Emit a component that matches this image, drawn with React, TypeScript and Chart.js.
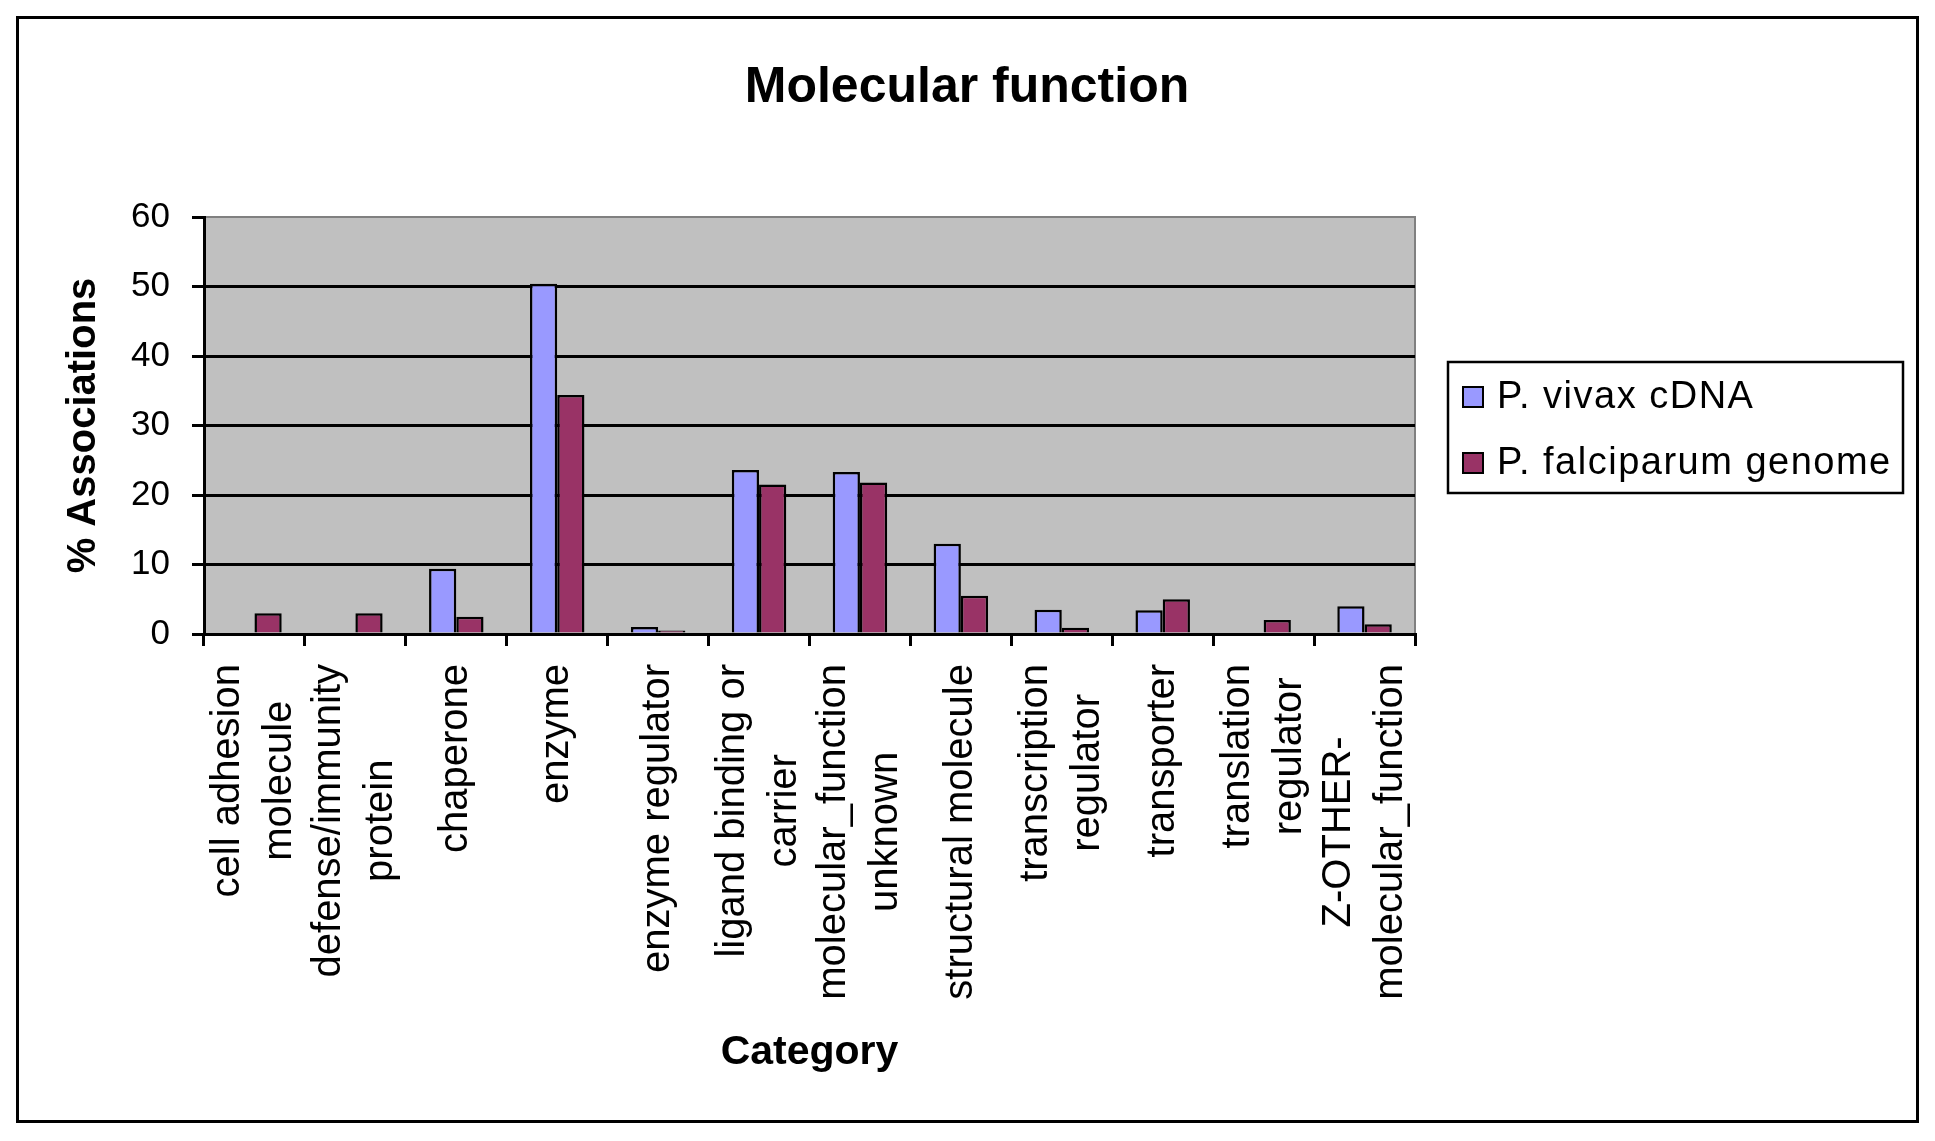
import { useEffect, useRef } from 'react';
import { Chart, registerables } from 'chart.js';

Chart.register(...registerables);

// category names, split into the lines used under the axis
const categoryLines: string[][] = [
  ['cell adhesion', 'molecule'],
  ['defense/immunity', 'protein'],
  ['chaperone'],
  ['enzyme'],
  ['enzyme regulator'],
  ['ligand binding or', 'carrier'],
  ['molecular_function', 'unknown'],
  ['structural molecule'],
  ['transcription', 'regulator'],
  ['transporter'],
  ['translation', 'regulator'],
  ['Z-OTHER-', 'molecular_function'],
];

const vivaxValues = [0, 0, 9.4, 50.4, 1.0, 23.6, 23.3, 13.0, 3.5, 3.4, 0, 4.0];
const falciparumValues = [3.0, 3.0, 2.5, 34.4, 0.5, 21.5, 21.8, 5.5, 0.9, 5.0, 2.0, 1.4];

const yTicks = [0, 10, 20, 30, 40, 50, 60];

const seriesNames = ['P. vivax cDNA', 'P. falciparum genome'];
const seriesColors = ['#9999FF', '#993366'];
const chartTitle = 'Molecular function';

const FONT = '"Liberation Sans", Arial, sans-serif';
const W = 1897;
const H = 1101;

const plotBackground = {
  id: 'plotBackground',
  beforeDraw(chart: Chart) {
    const { ctx, chartArea: a } = chart;
    ctx.save();
    ctx.fillStyle = '#C0C0C0';
    ctx.fillRect(a.left, a.top, a.right - a.left, a.bottom - a.top);
    ctx.strokeStyle = '#808080';
    ctx.lineWidth = 2;
    ctx.strokeRect(a.left, a.top, a.right - a.left, a.bottom - a.top);
    ctx.restore();
  },
};

const titleText = {
  id: 'titleText',
  afterDraw(chart: Chart) {
    const { ctx } = chart;
    ctx.save();
    ctx.font = `bold 50px ${FONT}`;
    ctx.fillStyle = '#000';
    ctx.textAlign = 'center';
    ctx.textBaseline = 'alphabetic';
    ctx.fillText(chartTitle, 948, 83);
    ctx.restore();
  },
};

const categoryLabels = {
  id: 'categoryLabels',
  afterDraw(chart: Chart) {
    const { ctx } = chart;
    const x = chart.scales.x;
    ctx.save();
    ctx.font = `40px ${FONT}`;
    ctx.fillStyle = '#000';
    ctx.textAlign = 'center';
    ctx.textBaseline = 'middle';
    const top = x.top + 30;
    categoryLines.forEach((lines, i) => {
      const cx = x.getPixelForValue(i);
      const maxW = Math.max(...lines.map((l) => ctx.measureText(l).width));
      lines.forEach((line, j) => {
        const lx = cx + (j - (lines.length - 1) / 2) * 52;
        ctx.save();
        ctx.translate(lx, top + maxW / 2);
        ctx.rotate(-Math.PI / 2);
        ctx.fillText(line, 0, 0);
        ctx.restore();
      });
    });
    ctx.restore();
  },
};

const boxedLegend = {
  id: 'boxedLegend',
  afterDraw(chart: Chart) {
    const { ctx } = chart;
    ctx.save();
    ctx.strokeStyle = '#000';
    ctx.lineWidth = 2.5;
    ctx.strokeRect(1429, 343, 455, 131);
    ctx.font = `38px ${FONT}`;
    (ctx as any).letterSpacing = '1.5px';
    ctx.textAlign = 'left';
    ctx.textBaseline = 'middle';
    seriesNames.forEach((name, i) => {
      const cy = 378 + i * 66;
      ctx.fillStyle = seriesColors[i];
      ctx.fillRect(1444, cy - 10, 20, 20);
      ctx.lineWidth = 2;
      ctx.strokeRect(1444, cy - 10, 20, 20);
      ctx.fillStyle = '#000';
      ctx.fillText(name, 1478, cy + 1);
    });
    ctx.restore();
  },
};

export default function App() {
  const chartRef = useRef<HTMLCanvasElement>(null);
  const chartInstance = useRef<Chart | null>(null);

  useEffect(() => {
    if (!chartRef.current) return;
    if (chartInstance.current) chartInstance.current.destroy();

    chartInstance.current = new Chart(chartRef.current, {
      type: 'bar',
      data: {
        labels: categoryLines.map((l) => l.join(' ')),
        datasets: [
          {
            label: seriesNames[0],
            data: vivaxValues,
            backgroundColor: seriesColors[0],
            borderColor: '#000',
            borderWidth: 2.5,
          },
          {
            label: seriesNames[1],
            data: falciparumValues,
            backgroundColor: seriesColors[1],
            borderColor: '#000',
            borderWidth: 2.5,
          },
        ],
      },
      options: {
        responsive: false,
        animation: false,
        categoryPercentage: 0.54,
        barPercentage: 1,
        layout: { padding: { top: 198, left: 0, right: 501, bottom: 43 } },
        plugins: {
          legend: { display: false },
          tooltip: { enabled: false },
          title: { display: false },
        },
        scales: {
          x: {
            grid: {
              drawOnChartArea: false,
              color: '#000',
              lineWidth: 3,
              tickLength: 12,
            },
            border: { color: '#000', width: 3 },
            ticks: { display: false },
            title: {
              display: true,
              text: 'Category',
              color: '#000',
              font: { family: FONT, size: 41, weight: 'bold' },
              padding: { top: 0, bottom: 0 },
            },
            afterFit: (scale: any) => {
              scale.height = 443;
            },
          },
          y: {
            min: 0,
            max: 60,
            afterBuildTicks: (scale: any) => {
              scale.ticks = yTicks.map((v) => ({ value: v }));
            },
            grid: {
              color: (c: any) => (c.tick && c.tick.value === 60 ? 'rgba(0,0,0,0)' : '#000'),
              tickColor: '#000',
              lineWidth: 3,
              tickLength: 12,
            },
            border: { color: '#000', width: 3 },
            ticks: {
              color: '#000',
              padding: 22,
              font: { family: FONT, size: 35 },
            },
            title: {
              display: true,
              text: '% Associations',
              color: '#000',
              font: { family: FONT, size: 40, weight: 'bold' },
              padding: { top: 41, bottom: 0 },
            },
            afterFit: (scale: any) => {
              scale.width = 185;
            },
          },
        },
      },
      plugins: [plotBackground, titleText, categoryLabels, boxedLegend],
    });

    return () => {
      if (chartInstance.current) {
        chartInstance.current.destroy();
        chartInstance.current = null;
      }
    };
  }, []);

  return (
    <div
      style={{
        position: 'absolute',
        left: 16,
        top: 16,
        width: W + 6,
        height: H + 6,
        border: '3px solid #000',
        boxSizing: 'border-box',
        background: '#fff',
      }}
    >
      <canvas ref={chartRef} width={W} height={H} style={{ display: 'block' }}></canvas>
    </div>
  );
}
